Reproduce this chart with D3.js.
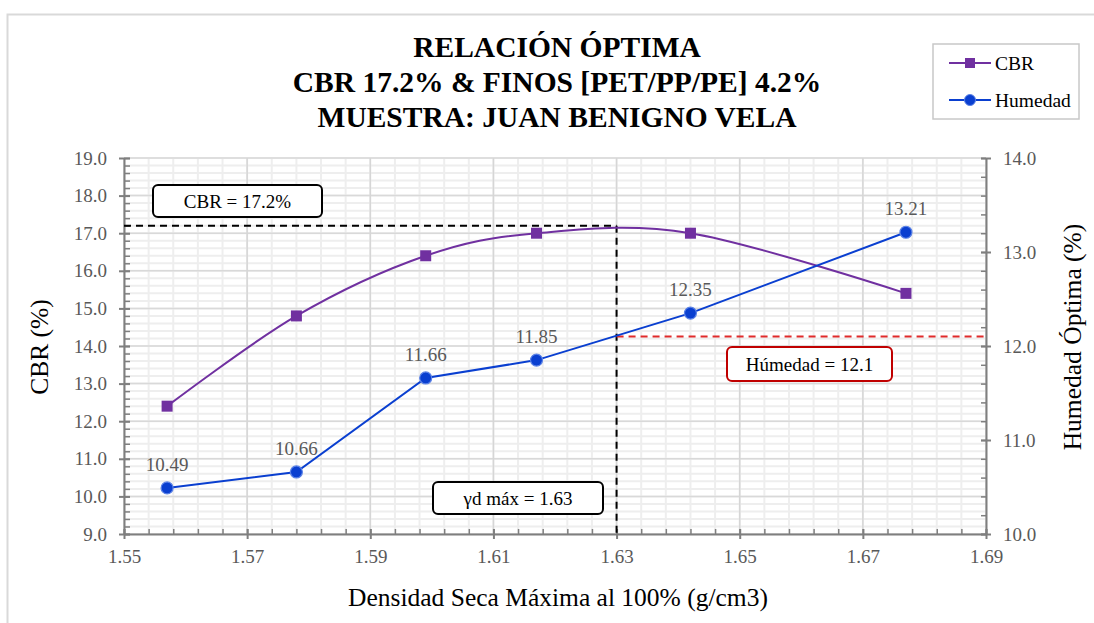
<!DOCTYPE html>
<html>
<head>
<meta charset="utf-8">
<script src="https://cdn.jsdelivr.net/npm/d3@7"></script>
<style>
  html, body { margin: 0; padding: 0; background: #ffffff; }
  svg { display: block; }
  text { font-family: "Liberation Serif", "Times New Roman", serif; }
</style>
</head>
<body>
<svg id="chart" width="1094" height="623"></svg>
<script>
// ---- Data ----
const densidad = [1.557, 1.578, 1.599, 1.617, 1.642, 1.677];
const cbr = [12.4, 14.8, 16.4, 17.0, 17.0, 15.4];
const humedad = [10.49, 10.66, 11.66, 11.85, 12.35, 13.21];
const humedadLabels = ["10.49", "10.66", "11.66", "11.85", "12.35", "13.21"];
const xTicks = [1.55, 1.57, 1.59, 1.61, 1.63, 1.65, 1.67, 1.69];
const yLeftTicks = [9, 10, 11, 12, 13, 14, 15, 16, 17, 18, 19];
const yRightTicks = [10, 11, 12, 13, 14];
const cbrOptimo = 17.2;
const densOptima = 1.63;
const humOptima = 12.1;
const titleLines = ["RELACIÓN ÓPTIMA", "CBR 17.2% & FINOS [PET/PP/PE] 4.2%", "MUESTRA: JUAN BENIGNO VELA"];
const seriesNames = ["CBR", "Humedad"];

// ---- Layout ----
const L = 124, R = 986, T = 158, B = 534;
const purple = "#7030a0", blue = "#0a3fd0", axisGray = "#7f7f7f", labelGray = "#595959";
const FONT = "'Liberation Serif', 'Times New Roman', serif";

const svg = d3.select("#chart");
const x = d3.scaleLinear().domain([1.55, 1.69]).range([L, R]);
const yL = d3.scaleLinear().domain([9, 19]).range([B, T]);
const yR = d3.scaleLinear().domain([10, 14]).range([B, T]);

// outer border
svg.append("rect").attr("x", 7.5).attr("y", 14.5).attr("width", 1100).attr("height", 640)
  .attr("fill", "#fff").attr("stroke", "#d9d9d9").attr("stroke-width", 2);

// grid
const grid = svg.append("g");
const xMinor = d3.range(0, 36).map(i => 1.55 + i * 0.004);
const yMinor = d3.range(0, 51).map(i => 9 + i * 0.2);
grid.selectAll(".hmin").data(yMinor).join("line")
  .attr("x1", L).attr("x2", R).attr("y1", d => yL(d)).attr("y2", d => yL(d))
  .attr("stroke", "#eeeeee").attr("stroke-width", 2);
grid.selectAll(".vmin").data(xMinor).join("line")
  .attr("x1", d => x(d)).attr("x2", d => x(d)).attr("y1", T).attr("y2", B)
  .attr("stroke", "#eeeeee").attr("stroke-width", 2);
grid.selectAll(".hmaj").data(yLeftTicks).join("line")
  .attr("x1", L).attr("x2", R).attr("y1", d => yL(d)).attr("y2", d => yL(d))
  .attr("stroke", "#d9d9d9").attr("stroke-width", 1.5);
grid.selectAll(".vmaj").data(xTicks).join("line")
  .attr("x1", d => x(d)).attr("x2", d => x(d)).attr("y1", T).attr("y2", B)
  .attr("stroke", "#d6d6d6").attr("stroke-width", 1.5);

// axes
function styleAxis(g) {
  g.attr("font-family", FONT);
  g.select(".domain").attr("stroke", axisGray).attr("stroke-width", 2);
  g.selectAll(".tick line").attr("stroke", axisGray).attr("stroke-width", 2);
  g.selectAll(".tick text").attr("fill", labelGray)
    .style("font-family", FONT).style("font-size", "19px");
}
// minor ticks
svg.append("g").attr("transform", `translate(0,${B})`)
  .call(d3.axisTop(x).tickValues(xMinor).tickSize(5).tickFormat("").tickSizeOuter(0))
  .call(g => { g.select(".domain").remove(); g.selectAll("line").attr("stroke", axisGray).attr("stroke-width", 1.5); });
svg.append("g").attr("transform", `translate(${L},0)`)
  .call(d3.axisRight(yL).tickValues(yMinor).tickSize(6).tickFormat("").tickSizeOuter(0))
  .call(g => { g.select(".domain").remove(); g.selectAll("line").attr("stroke", axisGray).attr("stroke-width", 1.5); });
svg.append("g").attr("transform", `translate(${R},0)`)
  .call(d3.axisLeft(yR).tickValues(d3.range(0, 21).map(i => 10 + i * 0.2)).tickSize(5).tickFormat("").tickSizeOuter(0))
  .call(g => { g.select(".domain").remove(); g.selectAll("line").attr("stroke", axisGray).attr("stroke-width", 1.5); });

// major axes
svg.append("g").attr("transform", `translate(0,${B})`)
  .call(d3.axisBottom(x).tickValues(xTicks).tickFormat(d3.format(".2f")).tickSize(5).tickSizeOuter(0))
  .call(styleAxis)
  .call(g => { g.selectAll(".tick line").attr("y1", -5); g.selectAll(".tick text").attr("y", 29).attr("dy", 0); });
svg.append("g").attr("transform", `translate(${L},0)`)
  .call(d3.axisLeft(yL).tickValues(yLeftTicks).tickFormat(d3.format(".1f")).tickSize(5).tickPadding(12).tickSizeOuter(0))
  .call(styleAxis)
  .call(g => g.selectAll(".tick line").attr("x2", 6).attr("x1", -5));
svg.append("g").attr("transform", `translate(${R},0)`)
  .call(d3.axisRight(yR).tickValues(yRightTicks).tickFormat(d3.format(".1f")).tickSize(5).tickPadding(12).tickSizeOuter(0))
  .call(styleAxis)
  .call(g => g.selectAll(".tick line").attr("x1", -5).attr("x2", 5));

// reference dashed lines
svg.append("line").attr("x1", L).attr("x2", x(densOptima)).attr("y1", yL(cbrOptimo)).attr("y2", yL(cbrOptimo))
  .attr("stroke", "#000").attr("stroke-width", 2).attr("stroke-dasharray", "7,5");
svg.append("line").attr("x1", x(densOptima)).attr("x2", x(densOptima)).attr("y1", yL(cbrOptimo)).attr("y2", B)
  .attr("stroke", "#000").attr("stroke-width", 2).attr("stroke-dasharray", "7,5");
svg.append("line").attr("x1", x(densOptima)).attr("x2", R).attr("y1", yR(humOptima)).attr("y2", yR(humOptima))
  .attr("stroke", "#e02b2b").attr("stroke-width", 2).attr("stroke-dasharray", "7,5");

// series lines
const cbrData = densidad.map((d, i) => [d, cbr[i]]);
const humData = densidad.map((d, i) => [d, humedad[i]]);
svg.append("path").datum(cbrData)
  .attr("d", d3.line().x(d => x(d[0])).y(d => yL(d[1])).curve(d3.curveCardinal.tension(0)))
  .attr("fill", "none").attr("stroke", purple).attr("stroke-width", 2);
svg.append("path").datum(humData)
  .attr("d", d3.line().x(d => x(d[0])).y(d => yR(d[1])))
  .attr("fill", "none").attr("stroke", blue).attr("stroke-width", 2);

// markers
svg.selectAll(".sq").data(cbrData).join("rect")
  .attr("x", d => x(d[0]) - 5.5).attr("y", d => yL(d[1]) - 5.5).attr("width", 11).attr("height", 11)
  .attr("fill", purple);
svg.selectAll(".ci").data(humData).join("circle")
  .attr("cx", d => x(d[0])).attr("cy", d => yR(d[1])).attr("r", 6)
  .attr("fill", blue).attr("stroke", "#5b82e6").attr("stroke-width", 1.2);

// data labels
svg.selectAll(".dl").data(humData).join("text")
  .attr("x", d => x(d[0])).attr("y", d => yR(d[1]) - 17)
  .attr("text-anchor", "middle").attr("fill", labelGray).style("font-size", "19px")
  .text((d, i) => humedadLabels[i]);

// annotation boxes
function box(x0, y0, w, h, stroke, label) {
  svg.append("rect").attr("x", x0).attr("y", y0).attr("width", w).attr("height", h).attr("rx", 5)
    .attr("fill", "#fff").attr("stroke", stroke).attr("stroke-width", 2);
  svg.append("text").attr("x", x0 + w / 2).attr("y", y0 + h / 2).attr("dy", "0.35em")
    .attr("text-anchor", "middle").attr("fill", "#000").style("font-size", "19px").text(label);
}
box(153, 185, 169, 32, "#000", "CBR = 17.2%");
box(727, 347, 165, 34, "#c00000", "Húmedad = 12.1");
box(433, 482, 170, 32, "#000", "\u03b3d m\u00e1x = 1.63");

// title
svg.selectAll(".title").data(titleLines).join("text")
  .attr("x", 557).attr("y", (d, i) => 57 + i * 35)
  .attr("text-anchor", "middle").attr("fill", "#000")
  .style("font-size", "29.5px").style("font-weight", "bold").text(d => d);

// axis titles
svg.append("text").attr("x", 558).attr("y", 606).attr("text-anchor", "middle")
  .style("font-size", "25.5px").attr("fill", "#000").text("Densidad Seca Máxima al 100% (g/cm3)");
svg.append("text").attr("transform", "translate(48,347) rotate(-90)").attr("text-anchor", "middle")
  .style("font-size", "25.5px").attr("fill", "#000").text("CBR (%)");
svg.append("text").attr("transform", "translate(1081,337) rotate(-90)").attr("text-anchor", "middle")
  .style("font-size", "25.5px").attr("fill", "#000").text("Humedad Óptima (%)");

// legend
svg.append("rect").attr("x", 933).attr("y", 44).attr("width", 146).attr("height", 75)
  .attr("fill", "#fff").attr("stroke", "#c8c8c8").attr("stroke-width", 1.5);
const leg = svg.selectAll(".leg").data(seriesNames).join("g")
  .attr("transform", (d, i) => `translate(949,${63 + i * 37})`);
leg.append("line").attr("x1", 0).attr("x2", 42).attr("stroke", (d, i) => i === 0 ? purple : blue).attr("stroke-width", 2);
leg.each(function(d, i) {
  const g = d3.select(this);
  if (i === 0) g.append("rect").attr("x", 16).attr("y", -5).attr("width", 10).attr("height", 10).attr("fill", purple);
  else g.append("circle").attr("cx", 21).attr("cy", 0).attr("r", 5.5).attr("fill", blue).attr("stroke", "#5b82e6");
});
leg.append("text").attr("x", 46).attr("dy", "0.35em").style("font-size", "19.5px").attr("fill", "#000").text(d => d);
</script>
</body>
</html>
